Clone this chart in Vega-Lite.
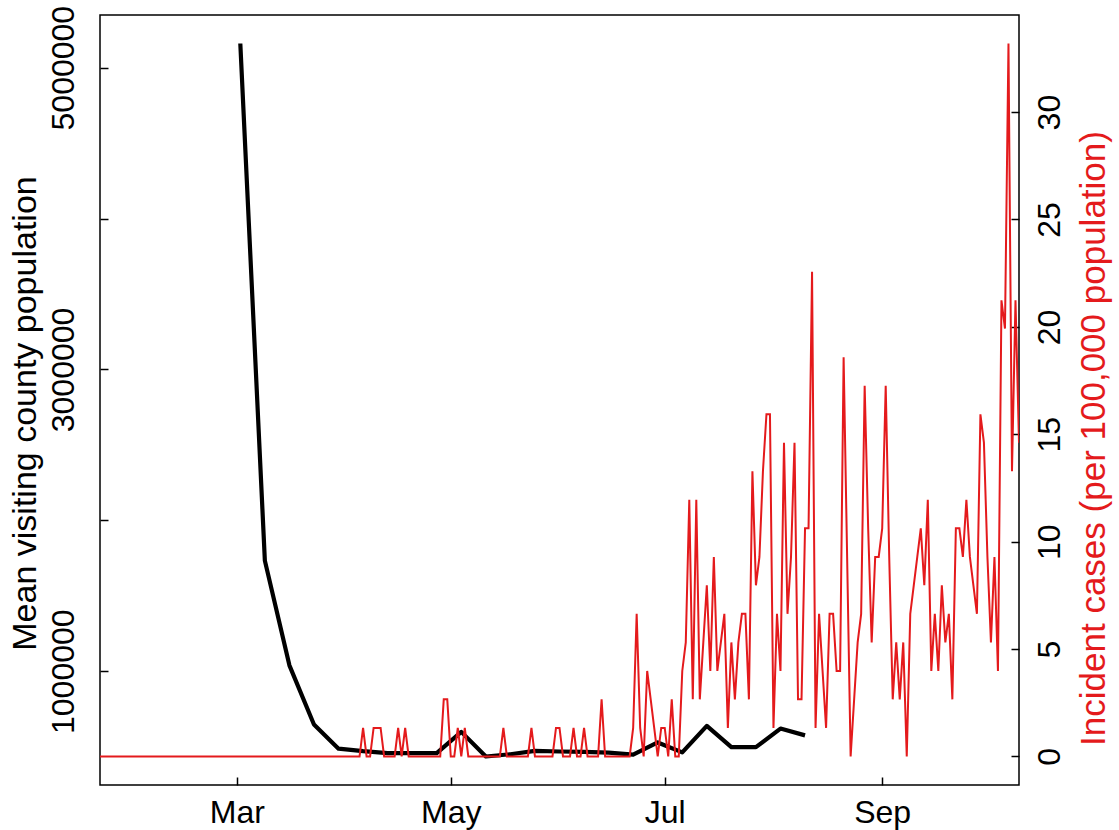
{
  "$schema": "https://vega.github.io/schema/vega-lite/v6.json",
  "width": 919,
  "height": 770,
  "autosize": {"type": "none"},
  "padding": {"left": 100, "top": 15, "right": 100, "bottom": 45},
  "background": "white",
  "config": {
    "font": "Liberation Sans",
    "view": {"stroke": "black", "strokeWidth": 1.5},
    "axis": {
      "labelFont": "Liberation Sans",
      "titleFont": "Liberation Sans",
      "labelFontSize": 32,
      "titleFontSize": 34,
      "labelColor": "black",
      "titleColor": "black",
      "titleFontWeight": "normal",
      "tickColor": "black",
      "tickWidth": 1.5,
      "grid": false,
      "domain": false,
      "labelFlush": false,
      "labelOverlap": false
    }
  },
  "datasets": {
    "visits": [
      {"date": "2020-03-02", "visitors": 5160000},
      {"date": "2020-03-09", "visitors": 1733000},
      {"date": "2020-03-16", "visitors": 1039000},
      {"date": "2020-03-23", "visitors": 647000},
      {"date": "2020-03-30", "visitors": 487000},
      {"date": "2020-04-06", "visitors": 470000},
      {"date": "2020-04-13", "visitors": 457000},
      {"date": "2020-04-20", "visitors": 457000},
      {"date": "2020-04-27", "visitors": 457000},
      {"date": "2020-05-04", "visitors": 598000},
      {"date": "2020-05-11", "visitors": 435000},
      {"date": "2020-05-18", "visitors": 450000},
      {"date": "2020-05-25", "visitors": 472000},
      {"date": "2020-06-01", "visitors": 468000},
      {"date": "2020-06-08", "visitors": 465000},
      {"date": "2020-06-15", "visitors": 461000},
      {"date": "2020-06-22", "visitors": 447000},
      {"date": "2020-06-29", "visitors": 528000},
      {"date": "2020-07-06", "visitors": 462000},
      {"date": "2020-07-13", "visitors": 638000},
      {"date": "2020-07-20", "visitors": 497000},
      {"date": "2020-07-27", "visitors": 497000},
      {"date": "2020-08-03", "visitors": 620000},
      {"date": "2020-08-10", "visitors": 575000}
    ],
    "note": [
      {"label": "Scioto County, OH, fips: 39145, pop: 75314"}
    ],
    "cases": [
      {"date": "2020-01-22", "inc": 0}, {"date": "2020-01-23", "inc": 0}, {"date": "2020-01-24", "inc": 0}, {"date": "2020-01-25", "inc": 0}, {"date": "2020-01-26", "inc": 0},
      {"date": "2020-01-27", "inc": 0}, {"date": "2020-01-28", "inc": 0}, {"date": "2020-01-29", "inc": 0}, {"date": "2020-01-30", "inc": 0}, {"date": "2020-01-31", "inc": 0},
      {"date": "2020-02-01", "inc": 0}, {"date": "2020-02-02", "inc": 0}, {"date": "2020-02-03", "inc": 0}, {"date": "2020-02-04", "inc": 0}, {"date": "2020-02-05", "inc": 0},
      {"date": "2020-02-06", "inc": 0}, {"date": "2020-02-07", "inc": 0}, {"date": "2020-02-08", "inc": 0}, {"date": "2020-02-09", "inc": 0}, {"date": "2020-02-10", "inc": 0},
      {"date": "2020-02-11", "inc": 0}, {"date": "2020-02-12", "inc": 0}, {"date": "2020-02-13", "inc": 0}, {"date": "2020-02-14", "inc": 0}, {"date": "2020-02-15", "inc": 0},
      {"date": "2020-02-16", "inc": 0}, {"date": "2020-02-17", "inc": 0}, {"date": "2020-02-18", "inc": 0}, {"date": "2020-02-19", "inc": 0}, {"date": "2020-02-20", "inc": 0},
      {"date": "2020-02-21", "inc": 0}, {"date": "2020-02-22", "inc": 0}, {"date": "2020-02-23", "inc": 0}, {"date": "2020-02-24", "inc": 0}, {"date": "2020-02-25", "inc": 0},
      {"date": "2020-02-26", "inc": 0}, {"date": "2020-02-27", "inc": 0}, {"date": "2020-02-28", "inc": 0}, {"date": "2020-02-29", "inc": 0},
      {"date": "2020-03-01", "inc": 0}, {"date": "2020-03-02", "inc": 0}, {"date": "2020-03-03", "inc": 0}, {"date": "2020-03-04", "inc": 0}, {"date": "2020-03-05", "inc": 0},
      {"date": "2020-03-06", "inc": 0}, {"date": "2020-03-07", "inc": 0}, {"date": "2020-03-08", "inc": 0}, {"date": "2020-03-09", "inc": 0}, {"date": "2020-03-10", "inc": 0},
      {"date": "2020-03-11", "inc": 0}, {"date": "2020-03-12", "inc": 0}, {"date": "2020-03-13", "inc": 0}, {"date": "2020-03-14", "inc": 0}, {"date": "2020-03-15", "inc": 0},
      {"date": "2020-03-16", "inc": 0}, {"date": "2020-03-17", "inc": 0}, {"date": "2020-03-18", "inc": 0}, {"date": "2020-03-19", "inc": 0}, {"date": "2020-03-20", "inc": 0},
      {"date": "2020-03-21", "inc": 0}, {"date": "2020-03-22", "inc": 0}, {"date": "2020-03-23", "inc": 0}, {"date": "2020-03-24", "inc": 0}, {"date": "2020-03-25", "inc": 0},
      {"date": "2020-03-26", "inc": 0}, {"date": "2020-03-27", "inc": 0}, {"date": "2020-03-28", "inc": 0}, {"date": "2020-03-29", "inc": 0}, {"date": "2020-03-30", "inc": 0},
      {"date": "2020-03-31", "inc": 0},
      {"date": "2020-04-01", "inc": 0}, {"date": "2020-04-02", "inc": 0}, {"date": "2020-04-03", "inc": 0}, {"date": "2020-04-04", "inc": 0}, {"date": "2020-04-05", "inc": 0},
      {"date": "2020-04-06", "inc": 1.33}, {"date": "2020-04-07", "inc": 0}, {"date": "2020-04-08", "inc": 0}, {"date": "2020-04-09", "inc": 1.33}, {"date": "2020-04-10", "inc": 1.33},
      {"date": "2020-04-11", "inc": 1.33}, {"date": "2020-04-12", "inc": 0}, {"date": "2020-04-13", "inc": 0}, {"date": "2020-04-14", "inc": 0}, {"date": "2020-04-15", "inc": 0},
      {"date": "2020-04-16", "inc": 1.33}, {"date": "2020-04-17", "inc": 0}, {"date": "2020-04-18", "inc": 1.33}, {"date": "2020-04-19", "inc": 0}, {"date": "2020-04-20", "inc": 0},
      {"date": "2020-04-21", "inc": 0}, {"date": "2020-04-22", "inc": 0}, {"date": "2020-04-23", "inc": 0}, {"date": "2020-04-24", "inc": 0}, {"date": "2020-04-25", "inc": 0},
      {"date": "2020-04-26", "inc": 0}, {"date": "2020-04-27", "inc": 0}, {"date": "2020-04-28", "inc": 0}, {"date": "2020-04-29", "inc": 2.66}, {"date": "2020-04-30", "inc": 2.66},
      {"date": "2020-05-01", "inc": 0}, {"date": "2020-05-02", "inc": 0}, {"date": "2020-05-03", "inc": 1.33}, {"date": "2020-05-04", "inc": 0}, {"date": "2020-05-05", "inc": 1.33},
      {"date": "2020-05-06", "inc": 0}, {"date": "2020-05-07", "inc": 0}, {"date": "2020-05-08", "inc": 0}, {"date": "2020-05-09", "inc": 0}, {"date": "2020-05-10", "inc": 0},
      {"date": "2020-05-11", "inc": 0}, {"date": "2020-05-12", "inc": 0}, {"date": "2020-05-13", "inc": 0}, {"date": "2020-05-14", "inc": 0}, {"date": "2020-05-15", "inc": 0},
      {"date": "2020-05-16", "inc": 1.33}, {"date": "2020-05-17", "inc": 0}, {"date": "2020-05-18", "inc": 0}, {"date": "2020-05-19", "inc": 0}, {"date": "2020-05-20", "inc": 0},
      {"date": "2020-05-21", "inc": 0}, {"date": "2020-05-22", "inc": 0}, {"date": "2020-05-23", "inc": 0}, {"date": "2020-05-24", "inc": 1.33}, {"date": "2020-05-25", "inc": 0},
      {"date": "2020-05-26", "inc": 0}, {"date": "2020-05-27", "inc": 0}, {"date": "2020-05-28", "inc": 0}, {"date": "2020-05-29", "inc": 0}, {"date": "2020-05-30", "inc": 0},
      {"date": "2020-05-31", "inc": 1.33},
      {"date": "2020-06-01", "inc": 1.33}, {"date": "2020-06-02", "inc": 0}, {"date": "2020-06-03", "inc": 0}, {"date": "2020-06-04", "inc": 0}, {"date": "2020-06-05", "inc": 1.33},
      {"date": "2020-06-06", "inc": 0}, {"date": "2020-06-07", "inc": 0}, {"date": "2020-06-08", "inc": 1.33}, {"date": "2020-06-09", "inc": 0}, {"date": "2020-06-10", "inc": 0},
      {"date": "2020-06-11", "inc": 0}, {"date": "2020-06-12", "inc": 0}, {"date": "2020-06-13", "inc": 2.66}, {"date": "2020-06-14", "inc": 0}, {"date": "2020-06-15", "inc": 0},
      {"date": "2020-06-16", "inc": 0}, {"date": "2020-06-17", "inc": 0}, {"date": "2020-06-18", "inc": 0}, {"date": "2020-06-19", "inc": 0}, {"date": "2020-06-20", "inc": 0},
      {"date": "2020-06-21", "inc": 0}, {"date": "2020-06-22", "inc": 1.33}, {"date": "2020-06-23", "inc": 6.64}, {"date": "2020-06-24", "inc": 1.33}, {"date": "2020-06-25", "inc": 0},
      {"date": "2020-06-26", "inc": 3.98}, {"date": "2020-06-27", "inc": 2.66}, {"date": "2020-06-28", "inc": 1.33}, {"date": "2020-06-29", "inc": 0}, {"date": "2020-06-30", "inc": 1.33},
      {"date": "2020-07-01", "inc": 1.33}, {"date": "2020-07-02", "inc": 0}, {"date": "2020-07-03", "inc": 2.66}, {"date": "2020-07-04", "inc": 0}, {"date": "2020-07-05", "inc": 0},
      {"date": "2020-07-06", "inc": 3.98}, {"date": "2020-07-07", "inc": 5.31}, {"date": "2020-07-08", "inc": 11.95}, {"date": "2020-07-09", "inc": 2.66}, {"date": "2020-07-10", "inc": 11.95},
      {"date": "2020-07-11", "inc": 2.66}, {"date": "2020-07-12", "inc": 5.31}, {"date": "2020-07-13", "inc": 7.97}, {"date": "2020-07-14", "inc": 3.98}, {"date": "2020-07-15", "inc": 9.29},
      {"date": "2020-07-16", "inc": 3.98}, {"date": "2020-07-17", "inc": 5.31}, {"date": "2020-07-18", "inc": 6.64}, {"date": "2020-07-19", "inc": 1.33}, {"date": "2020-07-20", "inc": 5.31},
      {"date": "2020-07-21", "inc": 2.66}, {"date": "2020-07-22", "inc": 5.31}, {"date": "2020-07-23", "inc": 6.64}, {"date": "2020-07-24", "inc": 6.64}, {"date": "2020-07-25", "inc": 2.66},
      {"date": "2020-07-26", "inc": 13.28}, {"date": "2020-07-27", "inc": 7.97}, {"date": "2020-07-28", "inc": 9.29}, {"date": "2020-07-29", "inc": 13.28}, {"date": "2020-07-30", "inc": 15.93},
      {"date": "2020-07-31", "inc": 15.93},
      {"date": "2020-08-01", "inc": 1.33}, {"date": "2020-08-02", "inc": 6.64}, {"date": "2020-08-03", "inc": 3.98}, {"date": "2020-08-04", "inc": 14.61}, {"date": "2020-08-05", "inc": 6.64},
      {"date": "2020-08-06", "inc": 9.29}, {"date": "2020-08-07", "inc": 14.61}, {"date": "2020-08-08", "inc": 2.66}, {"date": "2020-08-09", "inc": 2.66}, {"date": "2020-08-10", "inc": 10.62},
      {"date": "2020-08-11", "inc": 10.62}, {"date": "2020-08-12", "inc": 22.57}, {"date": "2020-08-13", "inc": 1.33}, {"date": "2020-08-14", "inc": 6.64}, {"date": "2020-08-15", "inc": 3.98},
      {"date": "2020-08-16", "inc": 1.33}, {"date": "2020-08-17", "inc": 6.64}, {"date": "2020-08-18", "inc": 6.64}, {"date": "2020-08-19", "inc": 3.98}, {"date": "2020-08-20", "inc": 3.98},
      {"date": "2020-08-21", "inc": 18.59}, {"date": "2020-08-22", "inc": 9.29}, {"date": "2020-08-23", "inc": 0}, {"date": "2020-08-24", "inc": 2.66}, {"date": "2020-08-25", "inc": 5.31},
      {"date": "2020-08-26", "inc": 6.64}, {"date": "2020-08-27", "inc": 17.26}, {"date": "2020-08-28", "inc": 10.62}, {"date": "2020-08-29", "inc": 5.31}, {"date": "2020-08-30", "inc": 9.29},
      {"date": "2020-08-31", "inc": 9.29},
      {"date": "2020-09-01", "inc": 10.62}, {"date": "2020-09-02", "inc": 17.26}, {"date": "2020-09-03", "inc": 9.29}, {"date": "2020-09-04", "inc": 2.66}, {"date": "2020-09-05", "inc": 5.31},
      {"date": "2020-09-06", "inc": 2.66}, {"date": "2020-09-07", "inc": 5.31}, {"date": "2020-09-08", "inc": 0}, {"date": "2020-09-09", "inc": 6.64}, {"date": "2020-09-10", "inc": 7.97},
      {"date": "2020-09-11", "inc": 9.29}, {"date": "2020-09-12", "inc": 10.62}, {"date": "2020-09-13", "inc": 7.97}, {"date": "2020-09-14", "inc": 11.95}, {"date": "2020-09-15", "inc": 3.98},
      {"date": "2020-09-16", "inc": 6.64}, {"date": "2020-09-17", "inc": 3.98}, {"date": "2020-09-18", "inc": 7.97}, {"date": "2020-09-19", "inc": 5.31}, {"date": "2020-09-20", "inc": 6.64},
      {"date": "2020-09-21", "inc": 2.66}, {"date": "2020-09-22", "inc": 10.62}, {"date": "2020-09-23", "inc": 10.62}, {"date": "2020-09-24", "inc": 9.29}, {"date": "2020-09-25", "inc": 11.95},
      {"date": "2020-09-26", "inc": 9.29}, {"date": "2020-09-27", "inc": 7.97}, {"date": "2020-09-28", "inc": 6.64}, {"date": "2020-09-29", "inc": 15.93}, {"date": "2020-09-30", "inc": 14.61},
      {"date": "2020-10-01", "inc": 9.29}, {"date": "2020-10-02", "inc": 5.31}, {"date": "2020-10-03", "inc": 9.29}, {"date": "2020-10-04", "inc": 3.98}, {"date": "2020-10-05", "inc": 21.24},
      {"date": "2020-10-06", "inc": 19.92}, {"date": "2020-10-07", "inc": 33.19}, {"date": "2020-10-08", "inc": 13.28}, {"date": "2020-10-09", "inc": 21.24}, {"date": "2020-10-10", "inc": 14.61}
    ]
  },
  "encoding": {
    "x": {
      "field": "date",
      "type": "temporal",
      "scale": {"type": "utc", "domain": [{"year": 2020, "month": 1, "date": 22, "utc": true}, {"year": 2020, "month": 10, "date": 10, "utc": true}]},
      "axis": {
        "orient": "bottom",
        "title": null,
        "values": [
          {"year": 2020, "month": 3, "date": 1, "utc": true},
          {"year": 2020, "month": 5, "date": 1, "utc": true},
          {"year": 2020, "month": 7, "date": 1, "utc": true},
          {"year": 2020, "month": 9, "date": 1, "utc": true}
        ],
        "labelExpr": "utcFormat(datum.value, '%b')",
        "tickSize": -8,
        "labelPadding": 20,
        "labelBaseline": "top",
        "labelAlign": "center"
      }
    }
  },
  "layer": [
    {
      "data": {"name": "visits"},
      "mark": {"type": "line", "color": "black", "strokeWidth": 4.2, "strokeJoin": "round", "strokeCap": "butt", "clip": true},
      "encoding": {
        "y": {
          "field": "visitors",
          "type": "quantitative",
          "scale": {"domain": [246000, 5349000], "nice": false, "zero": false},
          "axis": {
            "orient": "left",
            "values": [1000000, 2000000, 3000000, 4000000, 5000000],
            "labelExpr": "datum.value % 2000000 == 1000000 ? format(datum.value, 'd') : ''",
            "labelAngle": -90,
            "labelAlign": "center",
            "labelBaseline": "alphabetic",
            "labelPadding": 35,
            "tickSize": -8,
            "title": "Mean visiting county population",
            "titleAngle": -90,
            "titleAlign": "center",
            "titleBaseline": "alphabetic",
            "titleX": -65,
            "titleY": 398
          }
        }
      }
    },
    {
      "layer": [
        {
          "data": {"name": "cases"},
          "mark": {"type": "line", "color": "#E41A1C", "strokeWidth": 2, "strokeJoin": "miter", "clip": true},
          "encoding": {
            "y": {
              "field": "inc",
              "type": "quantitative",
              "scale": {"domain": [-1.328, 34.52], "nice": false, "zero": false},
              "axis": {
                "orient": "right",
                "values": [0, 5, 10, 15, 20, 25, 30],
                "labelAngle": -90,
                "labelAlign": "center",
                "labelBaseline": "top",
                "labelPadding": 23,
                "tickSize": -8,
                "title": "Incident cases (per 100,000 population)",
                "titleColor": "#E41A1C",
                "titleFontSize": 35,
                "titleAngle": -90,
                "titleAlign": "center",
                "titleBaseline": "alphabetic",
                "titleX": 85,
                "titleY": 423
              }
            }
          }
        },
        {
          "data": {"name": "note"},
          "mark": {"type": "text", "align": "right", "baseline": "middle", "font": "Liberation Sans", "fontSize": 32, "color": "black"},
          "encoding": {
            "text": {"field": "label"},
            "x": {"datum": {"year": 2020, "month": 10, "date": 6, "utc": true}, "type": "temporal"},
            "y": {"datum": 32.56, "type": "quantitative"}
          }
        }
      ]
    }
  ],
  "resolve": {"scale": {"y": "independent"}, "axis": {"y": "independent"}}
}
